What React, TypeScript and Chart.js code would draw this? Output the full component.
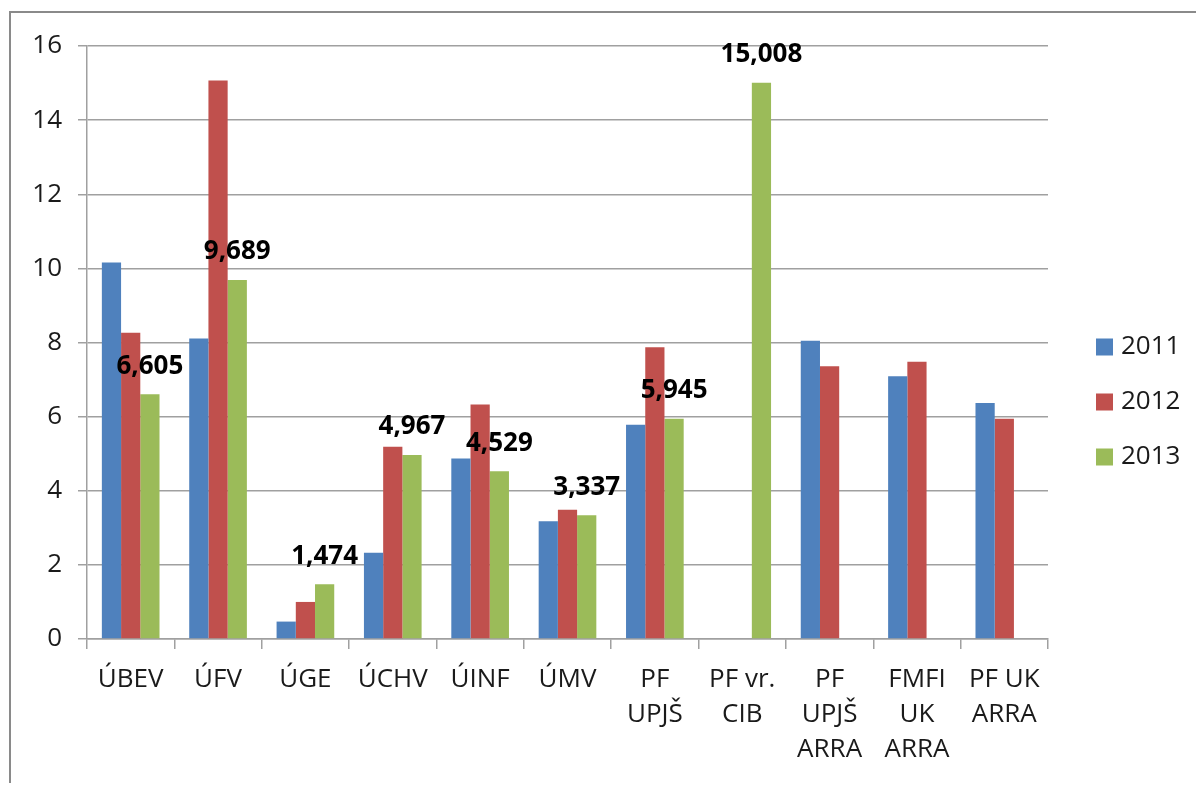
import { useEffect, useRef } from 'react';
import { Chart, registerables } from 'chart.js';

Chart.register(...registerables);

const categories: string[][] = [
  ['ÚBEV'],
  ['ÚFV'],
  ['ÚGE'],
  ['ÚCHV'],
  ['ÚINF'],
  ['ÚMV'],
  ['PF', 'UPJŠ'],
  ['PF vr.', 'CIB'],
  ['PF', 'UPJŠ', 'ARRA'],
  ['FMFI', 'UK', 'ARRA'],
  ['PF UK', 'ARRA'],
];

const seriesNames = ['2011', '2012', '2013'];
const seriesColors = ['#4F81BD', '#C0504D', '#9BBB59'];

const values2011: (number | null)[] = [10.16, 8.11, 0.47, 2.33, 4.87, 3.18, 5.78, null, 8.05, 7.09, 6.37];
const values2012: (number | null)[] = [8.26, 15.07, 1.0, 5.19, 6.33, 3.49, 7.87, null, 7.36, 7.48, 5.94];
const values2013: (number | null)[] = [6.605, 9.689, 1.474, 4.967, 4.529, 3.337, 5.945, 15.008, null, null, null];

const yMin = 0;
const yMax = 16;
const yStep = 2;

const FONT = '"Open Sans", "Noto Sans", sans-serif';
const GRID = '#a0a0a0';

const dataLabelPlugin = {
  id: 'dataLabels2013',
  afterDatasetsDraw(chart: any) {
    const ctx = chart.ctx;
    const meta = chart.getDatasetMeta(2);
    ctx.save();
    ctx.font = `bold 26px ${FONT}`;
    ctx.fillStyle = '#000';
    ctx.textAlign = 'center';
    ctx.textBaseline = 'middle';
    meta.data.forEach((bar: any, i: number) => {
      const v = values2013[i];
      if (v == null) return;
      ctx.fillText(v.toFixed(3).replace('.', ','), bar.x, bar.y - 28);
    });
    ctx.restore();
  },
};

const legendPlugin = {
  id: 'rightLegend',
  afterDraw(chart: any) {
    const ctx = chart.ctx;
    const area = chart.chartArea;
    const x = area.right + 48;
    const spacing = 55;
    const n = chart.data.datasets.length;
    const cy = chart.height / 2 + 4;
    ctx.save();
    ctx.font = `26px ${FONT}`;
    ctx.textAlign = 'left';
    ctx.textBaseline = 'middle';
    chart.data.datasets.forEach((ds: any, i: number) => {
      const y = cy + (i - (n - 1) / 2) * spacing;
      ctx.fillStyle = ds.backgroundColor;
      ctx.fillRect(x, y - 8.5, 17, 17);
      ctx.fillStyle = '#1a1a1a';
      ctx.fillText(ds.label, x + 25, y);
    });
    ctx.restore();
  },
};

export default function App() {
  const ref = useRef<HTMLCanvasElement | null>(null);

  useEffect(() => {
    if (!ref.current) return;
    const series = [values2011, values2012, values2013];
    const chart = new Chart(ref.current, {
      type: 'bar',
      data: {
        labels: categories,
        datasets: seriesNames.map((name, i) => ({
          label: name,
          data: series[i],
          backgroundColor: seriesColors[i],
          borderWidth: 0,
          categoryPercentage: 0.66,
          barPercentage: 1.0,
        })),
      },
      options: {
        animation: false,
        responsive: false,
        maintainAspectRatio: false,
        layout: { padding: { top: 33, right: 148, bottom: 0, left: 0 } },
        plugins: {
          legend: { display: false },
          tooltip: { enabled: false },
        },
        scales: {
          x: {
            afterFit: (s: any) => {
              s.height = 144;
            },
            grid: {
              offset: true,
              drawOnChartArea: false,
              drawTicks: true,
              tickLength: 10,
              color: GRID,
              lineWidth: 1.5,
            },
            border: { color: GRID, width: 1.5 },
            ticks: {
              font: { family: FONT, size: 26, lineHeight: 1.35 },
              color: '#1a1a1a',
              padding: 13,
              maxRotation: 0,
              autoSkip: false,
            },
          },
          y: {
            min: yMin,
            max: yMax,
            afterFit: (s: any) => {
              s.width = 76;
            },
            grid: {
              color: GRID,
              lineWidth: 1.5,
              tickLength: 9,
            },
            border: { color: GRID, width: 1.5 },
            ticks: {
              stepSize: yStep,
              font: { family: FONT, size: 26 },
              color: '#1a1a1a',
              padding: 16,
            },
          },
        },
      },
      plugins: [dataLabelPlugin, legendPlugin],
    });
    return () => chart.destroy();
  }, []);

  return (
    <div
      style={{
        position: 'absolute',
        left: 9,
        top: 11,
        borderTop: '2px solid #8a8a8a',
        borderLeft: '2px solid #8a8a8a',
        width: 1185,
        height: 770,
        background: '#fff',
      }}
    >
      <canvas ref={ref} width={1185} height={770} style={{ display: 'block' }} />
    </div>
  );
}
